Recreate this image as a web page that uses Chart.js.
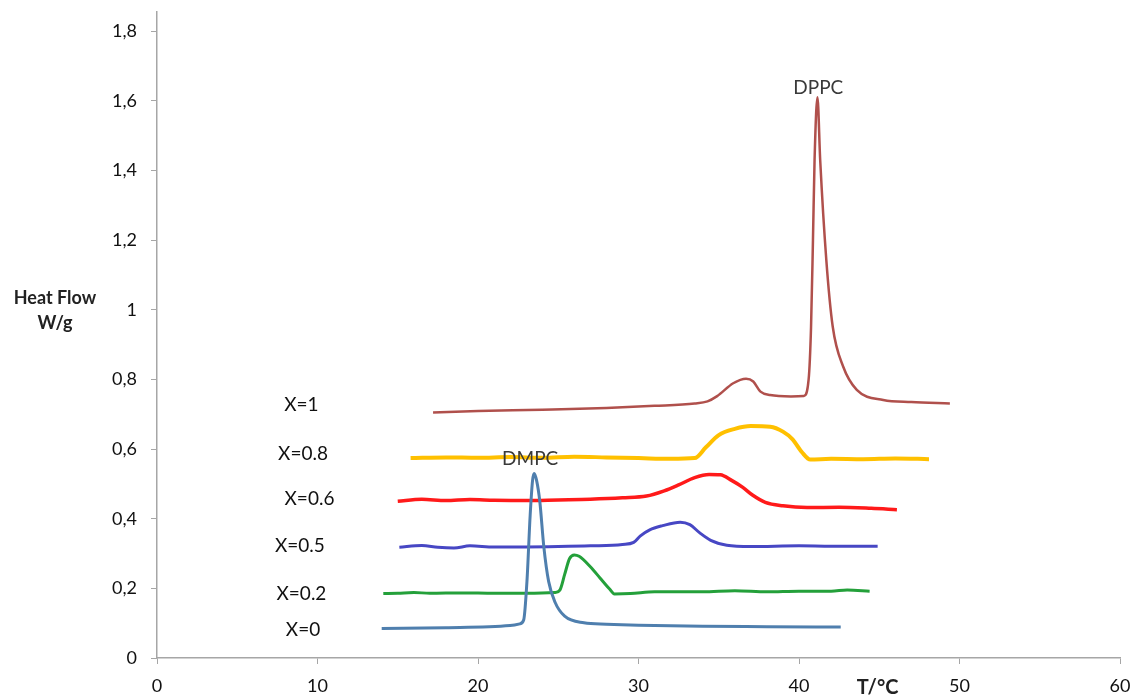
<!DOCTYPE html>
<html>
<head>
<meta charset="utf-8">
<script src="https://cdn.jsdelivr.net/npm/chart.js@4/dist/chart.umd.min.js"></script>
<style>
  html, body { margin: 0; padding: 0; background: #fff; }
  #wrap { width: 1137px; height: 696px; position: relative; }
</style>
</head>
<body>
<div id="wrap"><canvas id="dscChart"></canvas></div>
<script>
// axis ticks
const xTicks = [0, 10, 20, 30, 40, 50, 60];
const yTicks = [0, 0.2, 0.4, 0.6, 0.8, 1, 1.2, 1.4, 1.6, 1.8];

// X=0 (DMPC)
const x0T = [14.0, 18, 22.0, 22.6, 22.85, 23.05, 23.25, 23.4, 23.5, 23.65, 23.85, 24.1, 24.4, 24.8, 25.4, 26.6, 28, 30, 34, 38, 42.6];
const x0H = [0.085, 0.087, 0.093, 0.098, 0.11, 0.22, 0.41, 0.51, 0.53, 0.51, 0.45, 0.32, 0.22, 0.16, 0.12, 0.101, 0.097, 0.094, 0.091, 0.09, 0.089];

// X=0.2
const x02T = [14.1, 15, 16, 17, 19, 21, 23, 24.8, 25.1, 25.4, 25.7, 26.0, 26.3, 27.0, 27.6, 28.2, 28.5, 29.5, 31, 34, 36, 38, 40, 42, 43, 44.4];
const x02H = [0.185, 0.186, 0.188, 0.186, 0.187, 0.186, 0.186, 0.188, 0.195, 0.24, 0.285, 0.296, 0.292, 0.262, 0.23, 0.198, 0.184, 0.185, 0.19, 0.19, 0.193, 0.19, 0.192, 0.192, 0.195, 0.192];

// X=0.5
const x05T = [15.1, 16.5, 17.5, 18.5, 19.5, 21, 23, 25, 27, 29, 29.7, 30.1, 30.7, 31.5, 32.6, 33.2, 33.8, 34.5, 35.5, 37, 40, 42, 44.9];
const x05H = [0.318, 0.323, 0.318, 0.316, 0.322, 0.319, 0.319, 0.32, 0.322, 0.326, 0.332, 0.35, 0.368, 0.38, 0.39, 0.383, 0.36, 0.338, 0.324, 0.32, 0.322, 0.321, 0.321];

// X=0.6
const x06T = [15.0, 16.5, 18, 19.5, 21, 23, 25, 27, 29, 30.5, 31.6, 32.5, 33.5, 34.4, 35.1, 35.8, 36.5, 37.1, 37.9, 39, 40.5, 42.5, 44.5, 46.1];
const x06H = [0.45, 0.456, 0.452, 0.455, 0.453, 0.452, 0.454, 0.456, 0.46, 0.465, 0.48, 0.497, 0.518, 0.527, 0.526, 0.51, 0.49, 0.468, 0.447, 0.437, 0.432, 0.433, 0.43, 0.426];

// X=0.8
const x08T = [15.8, 18, 20, 22, 24, 26, 28, 30, 32, 33.5, 34.2, 35.0, 36, 37, 38.2, 39, 39.6, 40.2, 40.7, 42, 44, 46, 48.1];
const x08H = [0.574, 0.576, 0.575, 0.577, 0.575, 0.578, 0.576, 0.574, 0.572, 0.574, 0.605, 0.64, 0.658, 0.666, 0.664, 0.65, 0.628, 0.59, 0.57, 0.572, 0.571, 0.573, 0.571];

// X=1 (DPPC)
const x1T = [17.2, 20, 24, 28, 31, 33.5, 34.3, 34.9, 35.9, 36.7, 37.15, 37.6, 38.2, 39.5, 40.3, 40.6, 40.75, 40.87, 40.97, 41.15, 41.32, 41.7, 42.1, 42.75, 43.6, 45.25, 47, 49.4];
const x1H = [0.705, 0.709, 0.713, 0.718, 0.724, 0.731, 0.737, 0.752, 0.789, 0.802, 0.794, 0.765, 0.755, 0.751, 0.752, 0.8, 0.95, 1.2, 1.43, 1.61, 1.43, 1.144, 0.952, 0.837, 0.77, 0.741, 0.735, 0.731];

// curve labels: [text, T, heat flow]
const curveLabels = [
  ['X=1', 9.0, 0.727],
  ['X=0.8', 9.1, 0.585],
  ['X=0.6', 9.5, 0.456],
  ['X=0.5', 8.9, 0.323],
  ['X=0.2', 9.0, 0.185],
  ['X=0', 9.1, 0.08]
];
const peakLabels = [
  ['DPPC', 41.2, 1.638],
  ['DMPC', 23.25, 0.572]
];

function toPoints(ts, hs) {
  return ts.map((t, i) => ({ x: t, y: hs[i] }));
}

function line(label, ts, hs, color, width) {
  return {
    label: label,
    data: toPoints(ts, hs),
    showLine: true,
    borderColor: color,
    backgroundColor: color,
    borderWidth: width,
    pointRadius: 0,
    cubicInterpolationMode: 'monotone',
    fill: false
  };
}

const textPlugin = {
  id: 'texts',
  afterDatasetsDraw(chart) {
    const ctx = chart.ctx;
    const xs = chart.scales.x, ys = chart.scales.y;
    ctx.save();
    ctx.textAlign = 'center';
    ctx.textBaseline = 'middle';
    ctx.fillStyle = '#111';
    ctx.font = '19px Lato';
    curveLabels.forEach(l => {
      ctx.fillText(l[0], xs.getPixelForValue(l[1]), ys.getPixelForValue(l[2]));
    });
    ctx.fillStyle = '#3a3a3a';
    peakLabels.forEach(l => {
      ctx.fillText(l[0], xs.getPixelForValue(l[1]), ys.getPixelForValue(l[2]));
    });
    // axis titles
    ctx.fillStyle = '#222';
    ctx.font = 'bold 18px Lato';
    ctx.fillText('Heat Flow', 55, 298);
    ctx.fillText('W/g', 55, 323);
    ctx.font = 'bold 20px Lato';
    ctx.fillText('T/°C', xs.getPixelForValue(44.9), 688);
    ctx.restore();
  }
};

const axisColor = '#a6a6a6';

new Chart(document.getElementById('dscChart').getContext('2d'), {
  type: 'scatter',
  data: {
    datasets: [
      line('X=0', x0T, x0H, '#4f7fae', 3),
      line('X=1', x1T, x1H, '#b0504c', 2.5),
      line('X=0.2', x02T, x02H, '#24a03a', 3),
      line('X=0.5', x05T, x05H, '#4747c4', 3),
      line('X=0.6', x06T, x06H, '#ff1a1a', 3.5),
      line('X=0.8', x08T, x08H, '#ffc000', 4)
    ]
  },
  options: {
    responsive: true,
    maintainAspectRatio: false,
    animation: false,
    layout: { padding: { top: 12, right: 17, left: 0, bottom: 0 } },
    plugins: {
      legend: { display: false },
      tooltip: { enabled: false }
    },
    scales: {
      x: {
        type: 'linear',
        min: 0,
        max: 60,
        afterBuildTicks: s => { s.ticks = xTicks.map(v => ({ value: v })); },
        afterFit: s => { s.height = 38; s.paddingLeft = 0; s.paddingRight = 0; },
        grid: { display: true, drawOnChartArea: false, drawTicks: true, tickLength: 6, color: axisColor },
        border: { color: axisColor, width: 1.5 },
        ticks: { color: '#111', font: { family: 'Lato', size: 18 }, padding: 11, maxRotation: 0 }
      },
      y: {
        type: 'linear',
        min: 0,
        max: 1.855,
        afterBuildTicks: s => { s.ticks = yTicks.map(v => ({ value: v })); },
        afterFit: s => { s.width = 157; s.paddingTop = 0; s.paddingBottom = 0; },
        grid: { display: true, drawOnChartArea: false, drawTicks: true, tickLength: 6, color: axisColor },
        border: { color: axisColor, width: 1.5 },
        ticks: {
          color: '#111',
          font: { family: 'Lato', size: 18 },
          padding: 14,
          callback: v => Number.isInteger(v) ? String(v) : v.toFixed(1).replace('.', ',')
        }
      }
    }
  },
  plugins: [textPlugin]
});
</script>
</body>
</html>
